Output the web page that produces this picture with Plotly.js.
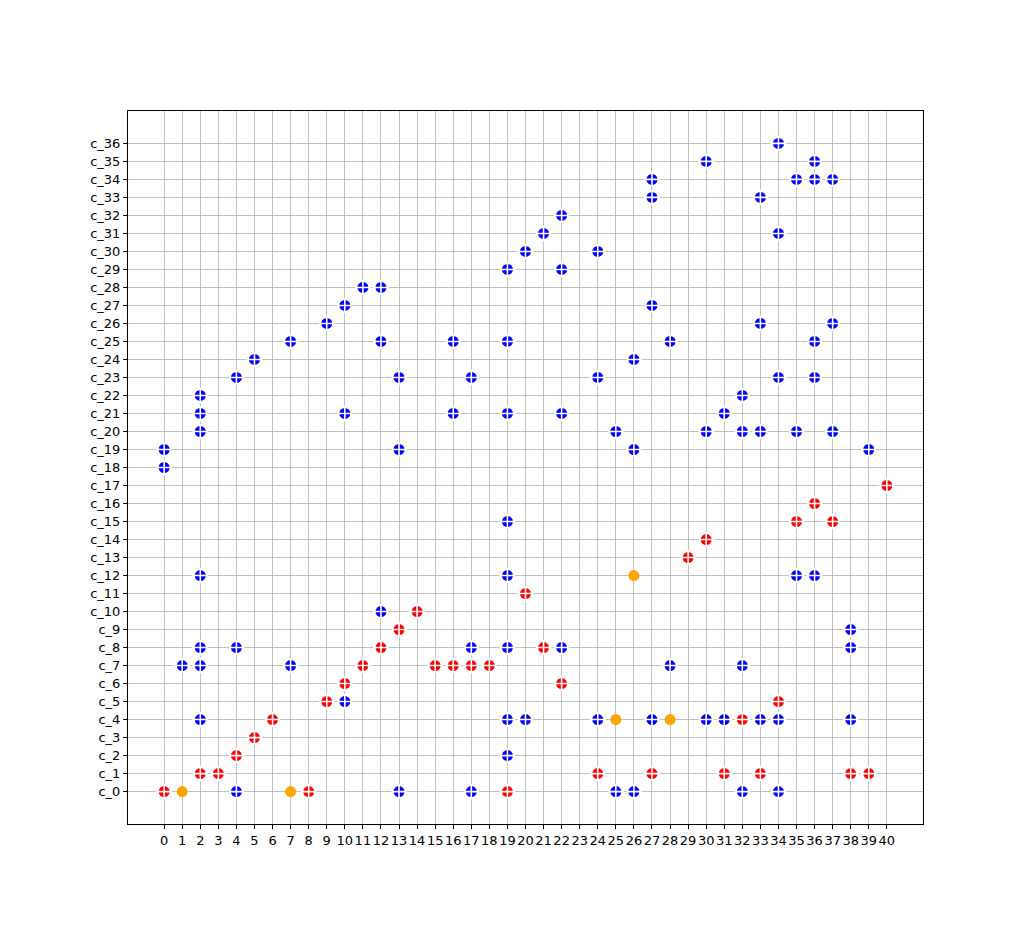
<!DOCTYPE html>
<html>
<head>
<meta charset="utf-8">
<script src="https://cdn.plot.ly/plotly-3.0.1.min.js"></script>
<style>html,body{margin:0;padding:0;background:#fff;}#chart{width:1025px;height:925px;}</style>
</head>
<body>
<div id="chart"></div>
<script>
const yCategories = ['c_0','c_1','c_2','c_3','c_4','c_5','c_6','c_7','c_8','c_9','c_10','c_11','c_12','c_13','c_14','c_15','c_16','c_17','c_18','c_19','c_20','c_21','c_22','c_23','c_24','c_25','c_26','c_27','c_28','c_29','c_30','c_31','c_32','c_33','c_34','c_35','c_36'];
const xTicks = [0,1,2,3,4,5,6,7,8,9,10,11,12,13,14,15,16,17,18,19,20,21,22,23,24,25,26,27,28,29,30,31,32,33,34,35,36,37,38,39,40];

const blueX = [34, 30,36, 27,35,36,37, 27,33, 22, 21,34, 20,24, 19,22, 11,12, 10,27, 9,33,37, 7,12,16,19,28,36, 5,26, 4,13,17,24,34,36, 2,32, 2,10,16,19,22,31, 2,25,30,32,33,35,37, 0,13,26,39, 0, 19, 2,19,35,36, 12, 38, 2,4,17,19,22,38, 1,2,7,28,32, 10, 2,19,20,24,27,30,31,33,34,38, 19, 4,13,17,25,26,32,34];
const blueY = ['c_36','c_35','c_35','c_34','c_34','c_34','c_34','c_33','c_33','c_32','c_31','c_31','c_30','c_30','c_29','c_29','c_28','c_28','c_27','c_27','c_26','c_26','c_26','c_25','c_25','c_25','c_25','c_25','c_25','c_24','c_24','c_23','c_23','c_23','c_23','c_23','c_23','c_22','c_22','c_21','c_21','c_21','c_21','c_21','c_21','c_20','c_20','c_20','c_20','c_20','c_20','c_20','c_19','c_19','c_19','c_19','c_18','c_15','c_12','c_12','c_12','c_12','c_10','c_9','c_8','c_8','c_8','c_8','c_8','c_8','c_7','c_7','c_7','c_7','c_7','c_5','c_4','c_4','c_4','c_4','c_4','c_4','c_4','c_4','c_4','c_4','c_2','c_0','c_0','c_0','c_0','c_0','c_0','c_0'];

const redX = [40, 36, 35,37, 30, 29, 20, 14, 13, 12,21, 11,15,16,17,18, 10,22, 9,34, 6,32, 5, 4, 2,3,24,27,31,33,38,39, 0,8,19];
const redY = ['c_17','c_16','c_15','c_15','c_14','c_13','c_11','c_10','c_9','c_8','c_8','c_7','c_7','c_7','c_7','c_7','c_6','c_6','c_5','c_5','c_4','c_4','c_3','c_2','c_1','c_1','c_1','c_1','c_1','c_1','c_1','c_1','c_0','c_0','c_0'];

const orangeX = [1, 7, 26, 25, 28];
const orangeY = ['c_0','c_0','c_12','c_4','c_4'];

function dots(x, y, color) {
  return {type:'scatter', mode:'markers', x:x, y:y, hoverinfo:'skip',
    marker:{symbol:'circle', size:11, color:color, line:{width:0}}};
}
function crosses(x, y) {
  return {type:'scatter', mode:'markers', x:x, y:y, hoverinfo:'skip',
    marker:{symbol:'cross-thin', size:11, color:'white', line:{width:1.6, color:'white'}}};
}

const data = [
  dots(blueX, blueY, '#0000ff'), crosses(blueX, blueY),
  dots(redX, redY, '#ff0000'), crosses(redX, redY),
  dots(orangeX, orangeY, '#ffa500')
];

const axisCommon = {
  showline:true, linecolor:'black', linewidth:1, mirror:true,
  ticks:'outside', ticklen:4, tickwidth:1, tickcolor:'black',
  showgrid:true, gridcolor:'#b0b0b0', gridwidth:0.8, zeroline:false,
  tickfont:{family:'DejaVu Sans', size:13, color:'black'}
};

const layout = {
  width:1025, height:925,
  margin:{l:128, r:102, t:111, b:101, pad:0},
  paper_bgcolor:'white', plot_bgcolor:'white',
  showlegend:false, hovermode:false,
  xaxis: Object.assign({}, axisCommon, {
    type:'linear', range:[-2, 42], tickmode:'array', tickvals:xTicks, ticktext:xTicks.map(String),
    tickangle:0, automargin:false
  }),
  yaxis: Object.assign({}, axisCommon, {
    type:'category', categoryorder:'array', categoryarray:yCategories,
    tickmode:'array', tickvals:yCategories, ticktext:yCategories, range:[-1.8, 37.8], automargin:false
  })
};

Plotly.newPlot('chart', data, layout, {displayModeBar:false, staticPlot:true});
</script>
</body>
</html>
